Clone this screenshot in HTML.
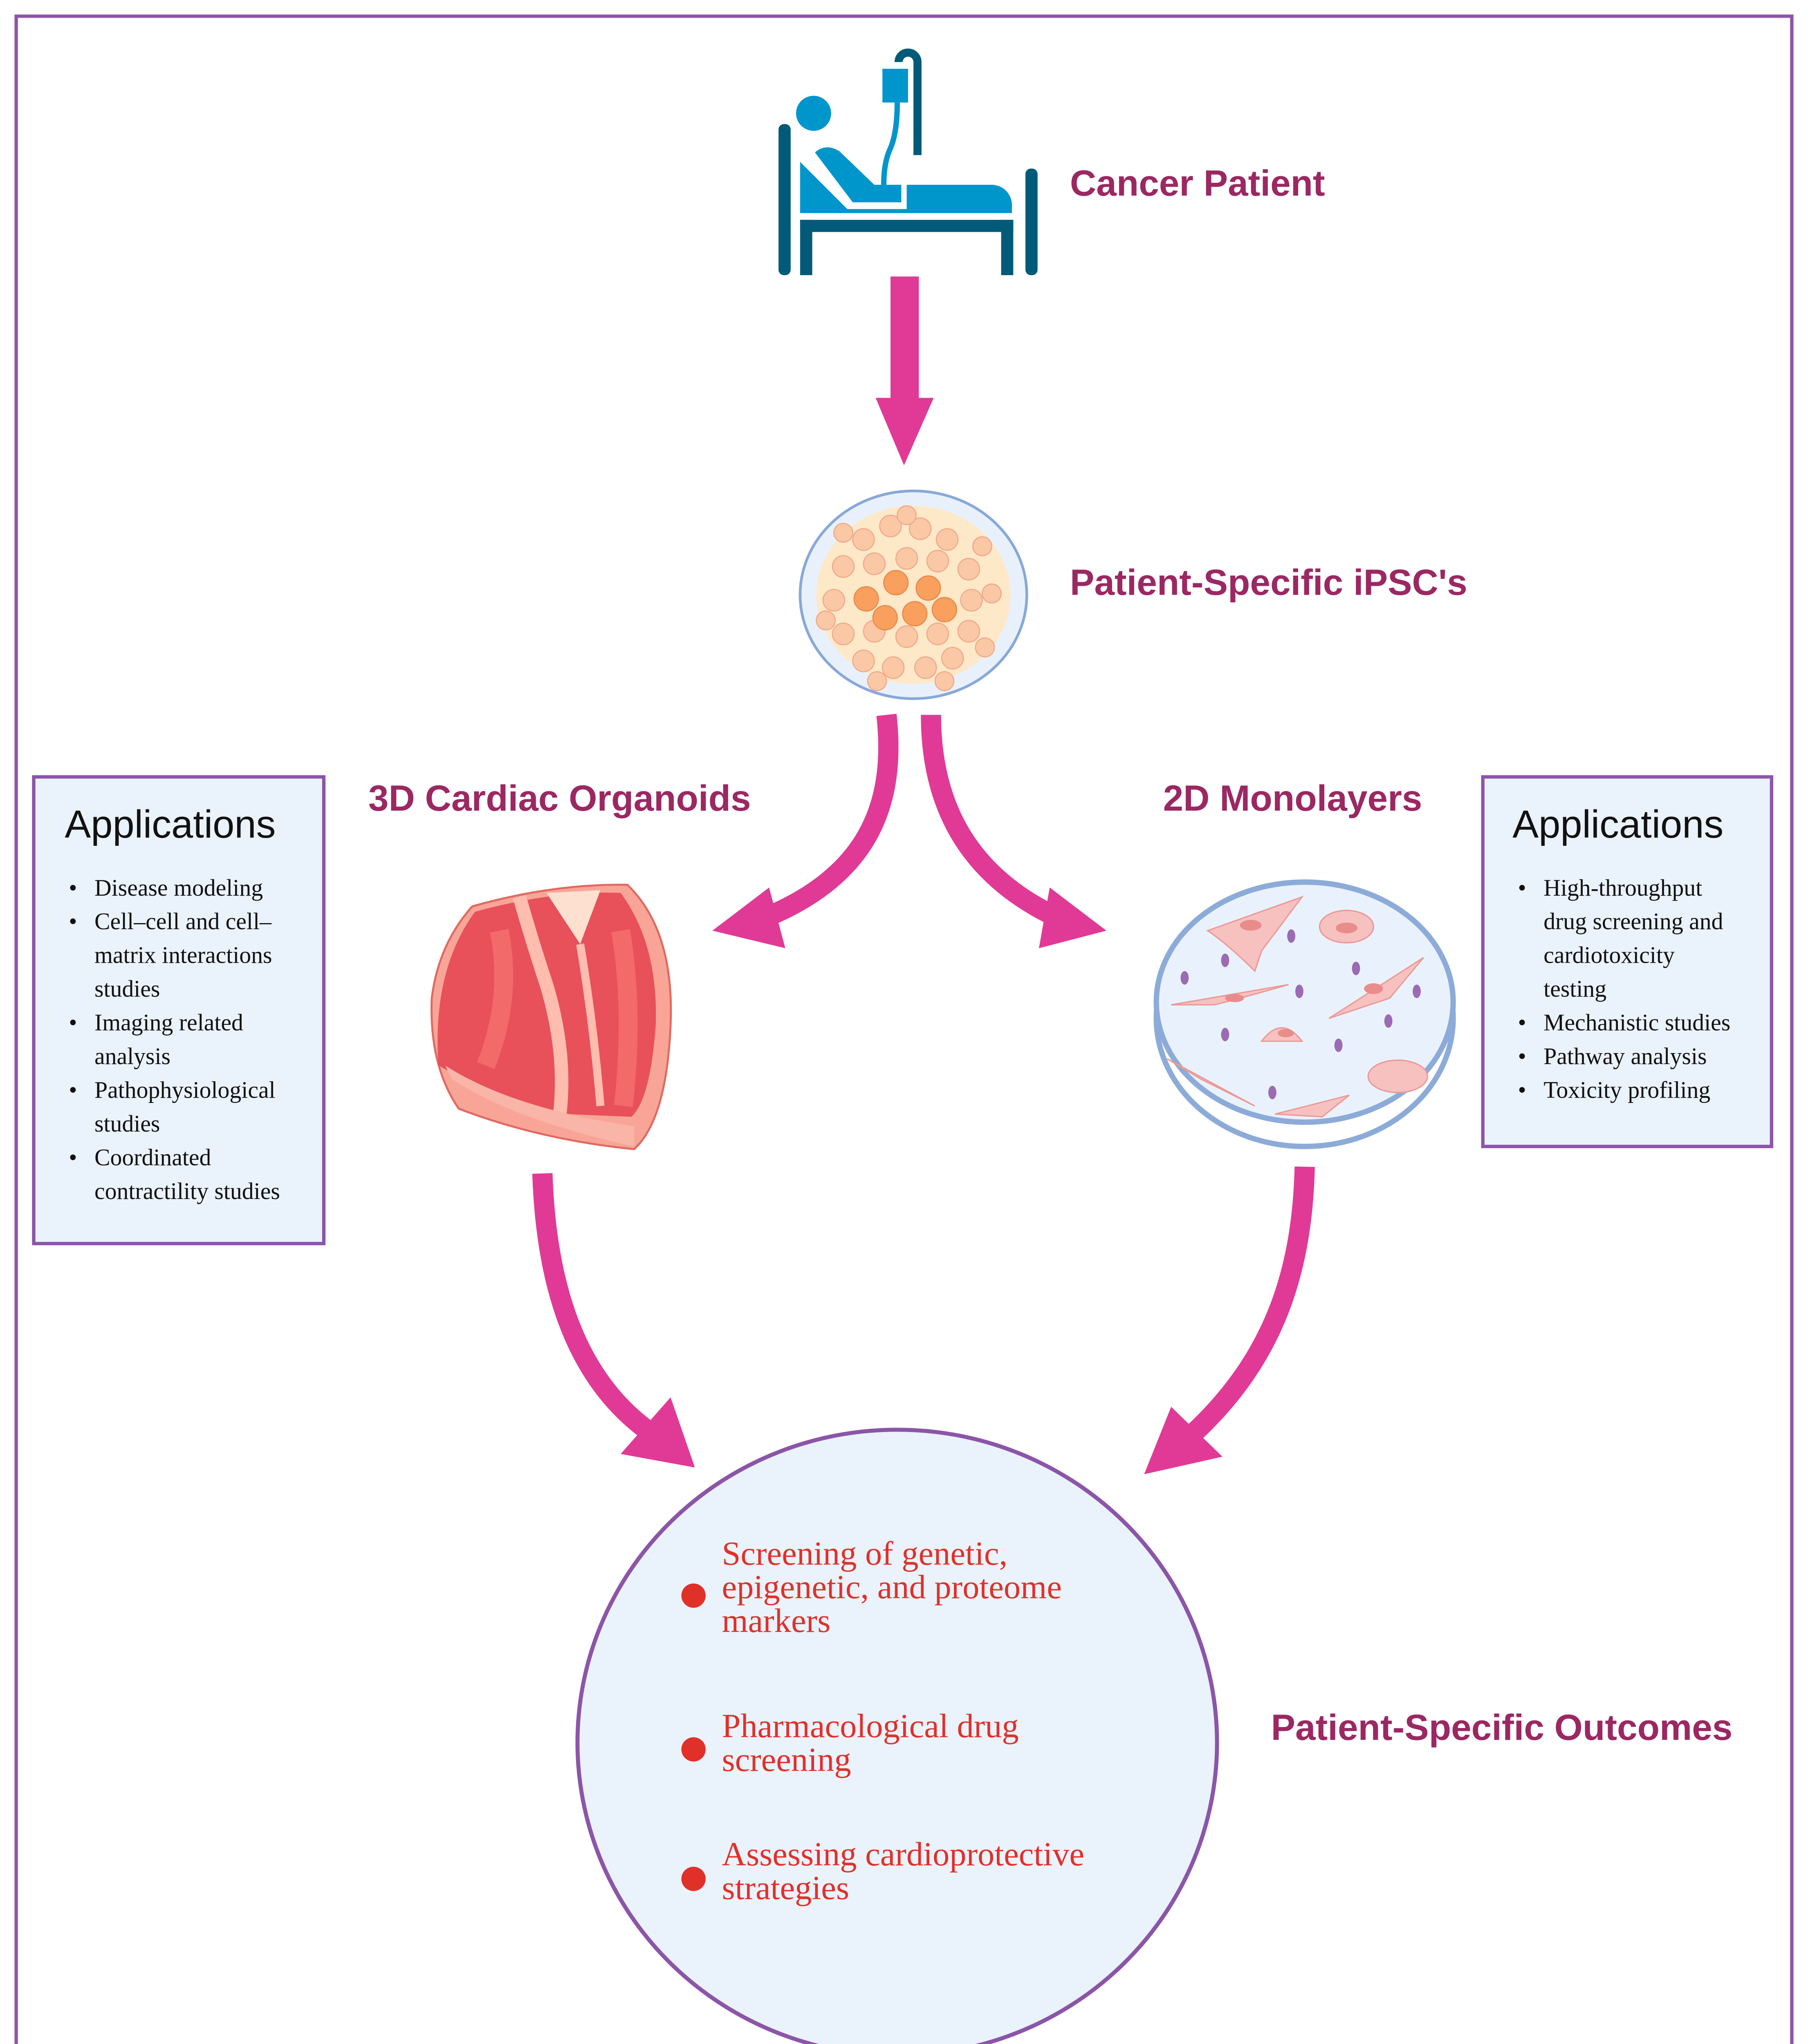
<!DOCTYPE html>
<html><head><meta charset="utf-8"><style>
html,body{margin:0;padding:0;background:#fff;width:4422px;height:5180px;overflow:hidden;}
svg{display:block;position:absolute;left:0;top:0;}
.t{font-family:"Liberation Sans",sans-serif;font-weight:bold;fill:#9b2862;font-size:27px;}
.ap{font-family:"Liberation Sans",sans-serif;font-size:29px;fill:#111;}
.b{font-family:"Liberation Serif",serif;font-size:17.5px;fill:#111;}
.r{font-family:"Liberation Serif",serif;font-size:25px;fill:#e0302a;}
</style></head><body>
<svg width="4422" height="5180" viewBox="0 0 1340 1570" preserveAspectRatio="none" xmlns="http://www.w3.org/2000/svg">
<rect x="0" y="0" width="1340" height="1570" fill="#fff"/>
<rect x="12" y="12" width="1316" height="1545" fill="none" stroke="#8b55a8" stroke-width="2.5"/>

<!-- bed icon -->
<g>
<rect x="577" y="92" width="9" height="112" rx="4" fill="#005a78"/>
<rect x="760" y="125" width="9" height="79" rx="4" fill="#005a78"/>
<rect x="593" y="163" width="158" height="9" fill="#005a78"/>
<rect x="593" y="163" width="9" height="41" fill="#005a78"/>
<rect x="742" y="163" width="9" height="41" fill="#005a78"/>
<path d="M680,115 V46 a7,7 0 0 0 -14,0" fill="none" stroke="#005a78" stroke-width="6"/>
<rect x="654" y="51" width="19" height="25" fill="#0096cc"/>
<circle cx="603" cy="84" r="13" fill="#0096cc"/>
<path d="M593,120 L628,155 L672,155 L672,137 H735 a15,15 0 0 1 15,15 V158 H593 Z" fill="#0096cc"/>
<path d="M604,113 Q612,106 622,112 L648,137 L668,137 L668,150 L632,150 Z" fill="#0096cc"/>
<path d="M665,76 Q665,100 659,112 Q655,122 655,137" fill="none" stroke="#0096cc" stroke-width="4"/>
</g>
<text class="t" x="793" y="145">Cancer Patient</text>

<!-- straight arrow -->
<rect x="660" y="205" width="21" height="92" fill="#e03a96"/>
<polygon points="649,295 692,295 670,345" fill="#e03a96"/>

<!-- iPSC -->
<ellipse cx="677" cy="441" rx="84" ry="77" fill="#e8f1fb" stroke="#88a8d8" stroke-width="2"/>
<ellipse cx="677" cy="441" rx="72" ry="66" fill="#fde8c8"/>
<g fill="#fbc8a6" stroke="#f0a88a" stroke-width="0.8">
<circle cx="640" cy="400" r="8"/><circle cx="660" cy="390" r="8"/><circle cx="682" cy="392" r="8"/><circle cx="702" cy="400" r="8"/>
<circle cx="625" cy="420" r="8"/><circle cx="648" cy="418" r="8"/><circle cx="672" cy="414" r="8"/><circle cx="695" cy="416" r="8"/><circle cx="718" cy="422" r="8"/>
<circle cx="618" cy="445" r="8"/><circle cx="720" cy="445" r="8"/><circle cx="735" cy="440" r="7"/>
<circle cx="625" cy="470" r="8"/><circle cx="648" cy="468" r="8"/><circle cx="672" cy="472" r="8"/><circle cx="695" cy="470" r="8"/><circle cx="718" cy="468" r="8"/>
<circle cx="640" cy="490" r="8"/><circle cx="662" cy="495" r="8"/><circle cx="686" cy="495" r="8"/><circle cx="706" cy="488" r="8"/>
<circle cx="625" cy="395" r="7"/><circle cx="728" cy="405" r="7"/><circle cx="612" cy="460" r="7"/><circle cx="730" cy="480" r="7"/><circle cx="650" cy="505" r="7"/><circle cx="700" cy="505" r="7"/><circle cx="672" cy="382" r="7"/>
</g>
<g fill="#f9a05e" stroke="#e88848" stroke-width="0.8">
<circle cx="642" cy="444" r="9"/><circle cx="664" cy="432" r="9"/><circle cx="688" cy="436" r="9"/><circle cx="700" cy="452" r="9"/><circle cx="678" cy="455" r="9"/><circle cx="656" cy="458" r="9"/>
</g>
<text class="t" x="793" y="441">Patient-Specific iPSC's</text>

<text class="t" x="273" y="601">3D Cardiac Organoids</text>
<text class="t" x="862" y="601">2D Monolayers</text>

<!-- curved arrows -->
<g fill="none" stroke="#e03a96" stroke-linecap="butt">
<path d="M657,530 C665,600 640,650 568,680" stroke-width="15"/>
<path d="M690,530 C690,600 720,650 783,680" stroke-width="15"/>
<path d="M402,870 C405,960 430,1025 482,1062" stroke-width="15"/>
<path d="M967,865 C965,950 940,1012 882,1065" stroke-width="15"/>
</g>
<g fill="#e03a96">
<polygon points="528,690 570,658 582,703"/>
<polygon points="820,690 778,658 770,703"/>
<polygon points="515,1088 460,1078 497,1036"/>
<polygon points="848,1093 868,1043 906,1080"/>
</g>

<!-- heart -->
<g>
<path d="M350,672 Q410,655 465,656 Q500,690 497,760 Q494,830 470,852 Q400,845 340,822 Q318,790 320,740 Q325,700 350,672 Z" fill="#f8a598" stroke="#e06a60" stroke-width="1.5"/>
<path d="M352,676 Q410,660 460,662 Q488,700 486,760 Q482,815 468,828 L420,826 Q360,810 325,790 Q320,720 352,676 Z" fill="#e8505a"/>
<path d="M370,690 Q380,740 360,790" fill="none" stroke="#f26a6a" stroke-width="14"/>
<path d="M460,690 Q470,750 462,820" fill="none" stroke="#f26a6a" stroke-width="14"/>
<path d="M385,665 Q395,700 405,730 Q420,780 415,825" fill="none" stroke="#ffbdb0" stroke-width="10"/>
<path d="M405,662 L445,660 L430,700 Z" fill="#fde0d0"/>
<path d="M430,700 Q440,760 445,820" fill="none" stroke="#ffbdb0" stroke-width="6"/>
<path d="M335,800 Q380,830 470,850 L470,835 Q380,822 330,790 Z" fill="#f8b5a8"/>
</g>

<!-- dish -->
<g>
<ellipse cx="967" cy="755" rx="110" ry="95" fill="none" stroke="#8cabd8" stroke-width="4"/>
<ellipse cx="967" cy="743" rx="110" ry="89" fill="#e9f2fc" stroke="#8cabd8" stroke-width="4"/>
<g fill="#f7c1c0" stroke="#eb9a98" stroke-width="1">
<path d="M895,690 L965,665 L935,705 L930,720 Q910,700 895,690 Z"/>
<ellipse cx="998" cy="687" rx="20" ry="12"/>
<path d="M868,745 L955,730 Q920,740 900,745 Z"/>
<path d="M985,755 L1055,710 L1030,740 L1015,745 Z"/>
<path d="M935,772 Q950,752 965,772 Z"/>
<path d="M865,785 L930,820 L890,800 Z"/>
<ellipse cx="1036" cy="798" rx="22" ry="12"/>
<path d="M945,826 L1000,812 L980,828 Z"/>
</g>
<g fill="#e88c8c">
<ellipse cx="927" cy="686" rx="8" ry="4"/><ellipse cx="998" cy="688" rx="8" ry="4"/><ellipse cx="915" cy="740" rx="7" ry="3"/><ellipse cx="1018" cy="733" rx="7" ry="4"/><ellipse cx="953" cy="766" rx="6" ry="3"/>
</g>
<g fill="#9b6bb3">
<ellipse cx="957" cy="694" rx="3" ry="5"/><ellipse cx="908" cy="712" rx="3" ry="5"/><ellipse cx="1005" cy="718" rx="3" ry="5"/><ellipse cx="878" cy="725" rx="3" ry="5"/><ellipse cx="963" cy="735" rx="3" ry="5"/><ellipse cx="1050" cy="735" rx="3" ry="5"/><ellipse cx="908" cy="767" rx="3" ry="5"/><ellipse cx="1029" cy="757" rx="3" ry="5"/><ellipse cx="992" cy="775" rx="3" ry="5"/><ellipse cx="943" cy="810" rx="3" ry="5"/>
</g>
</g>

<!-- left box -->
<rect x="25" y="576" width="215" height="346" fill="#eaf2fb" stroke="#8b55a8" stroke-width="2.5"/>
<text class="ap" x="48" y="621">Applications</text>
<g class="b">
<text x="51" y="664">•</text><text x="70" y="664">Disease modeling</text>
<text x="51" y="689">•</text><text x="70" y="689">Cell–cell and cell–</text>
<text x="70" y="714">matrix interactions</text>
<text x="70" y="739">studies</text>
<text x="51" y="764">•</text><text x="70" y="764">Imaging related</text>
<text x="70" y="789">analysis</text>
<text x="51" y="814">•</text><text x="70" y="814">Pathophysiological</text>
<text x="70" y="839">studies</text>
<text x="51" y="864">•</text><text x="70" y="864">Coordinated</text>
<text x="70" y="889">contractility studies</text>
</g>

<!-- right box -->
<rect x="1099" y="576" width="214" height="274" fill="#eaf2fb" stroke="#8b55a8" stroke-width="2.5"/>
<text class="ap" x="1121" y="621">Applications</text>
<g class="b">
<text x="1125" y="664">•</text><text x="1144" y="664">High-throughput</text>
<text x="1144" y="689">drug screening and</text>
<text x="1144" y="714">cardiotoxicity</text>
<text x="1144" y="739">testing</text>
<text x="1125" y="764">•</text><text x="1144" y="764">Mechanistic studies</text>
<text x="1125" y="789">•</text><text x="1144" y="789">Pathway analysis</text>
<text x="1125" y="814">•</text><text x="1144" y="814">Toxicity profiling</text>
</g>

<!-- outcomes circle -->
<ellipse cx="665" cy="1292" rx="237" ry="232" fill="#eaf2fb" stroke="#8b55a8" stroke-width="3"/>
<g fill="#e0302a"><circle cx="514" cy="1183" r="9"/><circle cx="514" cy="1297" r="9"/><circle cx="514" cy="1393" r="9"/></g>
<g class="r">
<text x="535" y="1160">Screening of genetic,</text>
<text x="535" y="1185">epigenetic, and proteome</text>
<text x="535" y="1210">markers</text>
<text x="535" y="1288">Pharmacological drug</text>
<text x="535" y="1313">screening</text>
<text x="535" y="1383">Assessing cardioprotective</text>
<text x="535" y="1408">strategies</text>
</g>
<text class="t" x="942" y="1290">Patient-Specific Outcomes</text>
</svg>
</body></html>
